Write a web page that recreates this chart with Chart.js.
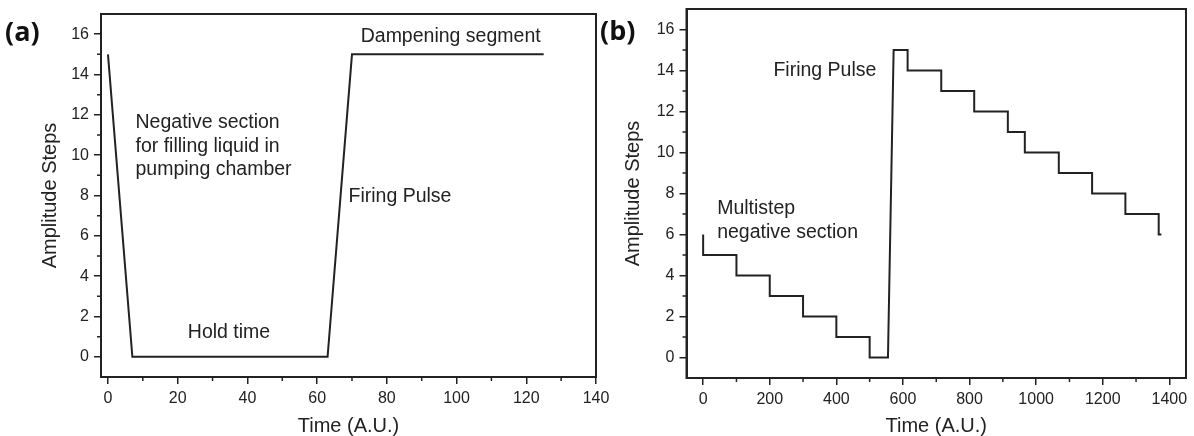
<!DOCTYPE html>
<html><head><meta charset="utf-8">
<script src="https://cdn.jsdelivr.net/npm/chart.js@4.4.1/dist/chart.umd.min.js"></script>
<style>
html,body{margin:0;padding:0;background:#fff;}
#wrap{position:relative;width:1194px;height:436px;overflow:hidden;background:#fff;}
canvas{position:absolute;top:0;}
#ca{left:0;} #cb{left:596px;}
</style></head><body>
<div id="wrap"><canvas id="ca" width="620" height="436"></canvas><canvas id="cb" width="598" height="436"></canvas></div>
<script>
// ---- data ----
const timeA = [0, 7, 63, 70, 125];
const ampA  = [15, 0, 0, 15, 15];

const timeB = [0, 0, 100, 100, 200, 200, 300, 300, 400, 400, 500, 500, 555, 572, 614, 614, 715, 715, 814, 814, 915, 915, 966, 966, 1068, 1068, 1168, 1168, 1268, 1268, 1368, 1368, 1376];
const ampB  = [6, 5, 5, 4, 4, 3, 3, 2, 2, 1, 1, 0, 0, 15, 15, 14, 14, 13, 13, 12, 12, 11, 11, 10, 10, 9, 9, 8, 8, 7, 7, 6, 6];

const xTicksA = [0, 20, 40, 60, 80, 100, 120, 140];
const xMinorA = [10, 30, 50, 70, 90, 110, 130];
const xTicksB = [0, 200, 400, 600, 800, 1000, 1200, 1400];
const xMinorB = [100, 300, 500, 700, 900, 1100, 1300];
const yTicks  = [0, 2, 4, 6, 8, 10, 12, 14, 16];
const yMinor  = [1, 3, 5, 7, 9, 11, 13, 15];

const notesA = [
  {text: 'Dampening segment', x: 72.5, y: 15.9},
  {text: 'Negative section', x: 7.9, y: 11.6},
  {text: 'for filling liquid in', x: 7.9, y: 10.43},
  {text: 'pumping chamber', x: 7.9, y: 9.26},
  {text: 'Firing Pulse', x: 69, y: 7.94},
  {text: 'Hold time', x: 22.9, y: 1.18}
];
const notesB = [
  {text: 'Firing Pulse', x: 211, y: 14.0},
  {text: 'Multistep', x: 42, y: 7.25},
  {text: 'negative section', x: 42, y: 6.1}
];

// ---- drawing ----
const INK = '#222';
const FAM = '"Liberation Sans", Arial, sans-serif';

const frame = {
  id: 'frame',
  afterDraw(chart, args, o) {
    const {ctx, chartArea: a, scales: {x, y}} = chart;
    ctx.save();
    ctx.strokeStyle = INK;
    ctx.lineWidth = 2;
    ctx.strokeRect(a.left, a.top, a.right - a.left, a.bottom - a.top);
    ctx.lineWidth = 1.5;
    ctx.beginPath();
    o.xMinor.forEach(v => { const p = x.getPixelForValue(v); ctx.moveTo(p, a.bottom); ctx.lineTo(p, a.bottom + 4); });
    o.yMinor.forEach(v => { const p = y.getPixelForValue(v); ctx.moveTo(a.left, p); ctx.lineTo(a.left - 4, p); });
    ctx.stroke();
    ctx.fillStyle = INK;
    ctx.font = '19.5px ' + FAM;
    ctx.textBaseline = 'middle';
    ctx.textAlign = 'left';
    o.notes.forEach(n => ctx.fillText(n.text, x.getPixelForValue(n.x), y.getPixelForValue(n.y)));
    ctx.font = 'bold 27px "Open Sans", sans-serif';
    ctx.fillStyle = '#111';
    ctx.fillText(o.tag, o.tagX, o.tagY);
    ctx.restore();
  }
};

function makeChart(id, xs, ys, cfg) {
  new Chart(document.getElementById(id), {
    type: 'scatter',
    data: { datasets: [{
      data: xs.map((v, i) => ({x: v, y: ys[i]})),
      showLine: true, pointRadius: 0, borderColor: INK, borderWidth: 2,
      borderJoinStyle: 'miter', tension: 0
    }]},
    options: {
      responsive: false, animation: false, devicePixelRatio: 1,
      layout: { padding: cfg.pad },
      plugins: { legend: {display: false}, tooltip: {enabled: false},
        frame: { xMinor: cfg.xMinor, yMinor: yMinor, notes: cfg.notes, tag: cfg.tag, tagX: cfg.tagX, tagY: cfg.tagY } },
      scales: {
        x: {
          type: 'linear', min: cfg.xMin, max: cfg.xMax,
          afterBuildTicks: s => { s.ticks = cfg.xTicks.map(v => ({value: v})); },
          afterFit: s => { s.height = cfg.xH; s.paddingLeft = 0; s.paddingRight = 0; },
          grid: { drawOnChartArea: false, drawTicks: true, tickLength: 7, color: INK, lineWidth: 1.5 },
          border: { display: true, color: INK, width: 2 },
          ticks: { color: INK, font: {family: FAM, size: 16}, padding: 5, maxRotation: 0, autoSkip: false,
                   callback: v => String(v) },
          title: { display: true, text: 'Time (A.U.)', color: INK, font: {family: FAM, size: 20, lineHeight: 1}, padding: {top: 0, bottom: 0} }
        },
        y: {
          type: 'linear', min: -1, max: 17,
          afterBuildTicks: s => { s.ticks = yTicks.map(v => ({value: v})); },
          afterFit: s => { s.width = cfg.yW; s.paddingTop = 0; s.paddingBottom = 0; },
          grid: { drawOnChartArea: false, drawTicks: true, tickLength: 7, color: INK, lineWidth: 1.5 },
          border: { display: true, color: INK, width: 2 },
          ticks: { color: INK, font: {family: FAM, size: 16}, padding: 5, autoSkip: false,
                   callback: v => String(v) },
          title: { display: true, text: 'Amplitude Steps', color: INK, font: {family: FAM, size: 20, lineHeight: 1}, padding: {top: cfg.yTitlePad, bottom: 0} }
        }
      }
    },
    plugins: [frame]
  });
}

makeChart('ca', timeA, ampA, {
  pad: {left: 0, top: 14, right: 24, bottom: 0},
  xMin: -2, xMax: 140, xTicks: xTicksA, xMinor: xMinorA, xH: 59, yW: 101, yTitlePad: 40,
  notes: notesA, tag: '(a)', tagX: 5, tagY: 33
});
makeChart('cb', timeB, ampB, {
  pad: {left: 0, top: 9, right: 8, bottom: 0},
  xMin: -50, xMax: 1450, xTicks: xTicksB, xMinor: xMinorB, xH: 58, yW: 90.5, yTitlePad: 27,
  notes: notesB, tag: '(b)', tagX: 4, tagY: 32
});
</script>
</body></html>
